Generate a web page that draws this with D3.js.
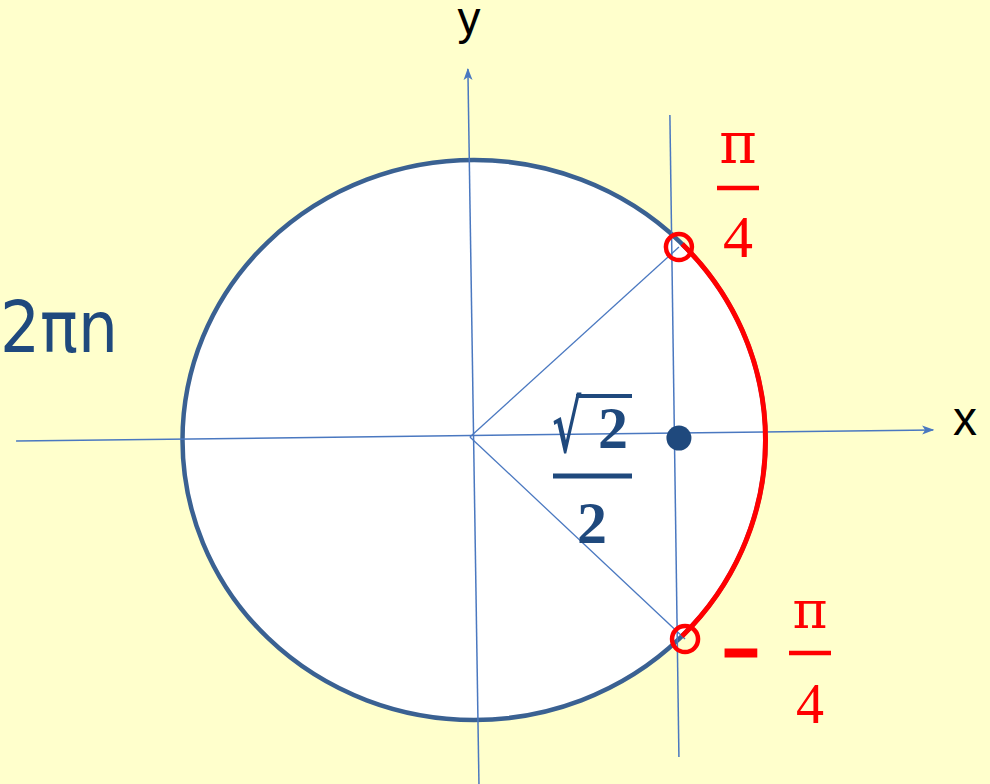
<!DOCTYPE html>
<html>
<head>
<meta charset="utf-8">
<script src="https://cdn.jsdelivr.net/npm/d3@7"></script>
<style>
	html, body { margin: 0; padding: 0; background: #FFFFCC; overflow: hidden; }
	svg { display: block; }
</style>
</head>
<body>
<svg id="chart" width="990" height="784"></svg>
<script>
// unit-circle coordinates
const AXIS_X = [[-1.571, -0.004], [1.575, 0.036]];
const AXIS_Y = [[0.017, -1.229], [-0.021, 1.325]];
const COS_LINE = [[0.672, 1.161], [0.703, -1.132]];
const ORIGIN = [-0.014, 0.011];
const ANGLE_POINTS = [[0.703, 0.689], [0.724, -0.711]];
const COS_POINT = [0.703, 0.007];

const AXIS_NAMES = ["x", "y"];
const ANGLE_LABELS = [["", "π", "4"], ["–", "π", "4"]];
const COS_LABEL = ["√", "2", "2"];
const SIDE_TEXT = "2πn";

const AXIS_COLOR = "#4A78C0";
const CIRCLE_COLOR = "#3A6192";
const DARK_BLUE = "#1F497D";
const RED = "#FF0000";

const svg = d3.select("#chart");
const width = +svg.attr("width");
const height = +svg.attr("height");

const x = d3.scaleLinear().domain([-1, 1]).range([182.5, 765.5]);
const y = d3.scaleLinear().domain([-1, 1]).range([720, 160]);
const rx = (x(1) - x(-1)) / 2;
const ry = (y(-1) - y(1)) / 2;

svg.append("rect")
	.attr("width", width)
	.attr("height", height)
	.attr("fill", "#FFFFCC");

svg.append("defs").append("marker")
	.attr("id", "arrow")
	.attr("viewBox", "0 0 12 10")
	.attr("refX", 11)
	.attr("refY", 5)
	.attr("markerWidth", 12)
	.attr("markerHeight", 10)
	.attr("markerUnits", "userSpaceOnUse")
	.attr("orient", "auto")
	.append("path")
	.attr("d", "M0,0.5 L12,5 L0,9.5 L3,5 Z")
	.attr("fill", AXIS_COLOR);

// circle
svg.append("ellipse")
	.attr("cx", x(0))
	.attr("cy", y(0))
	.attr("rx", rx)
	.attr("ry", ry)
	.attr("fill", "#fff")
	.attr("stroke", CIRCLE_COLOR)
	.attr("stroke-width", 4.5);

const line = d3.line()
	.x(d => x(d[0]))
	.y(d => y(d[1]));

// axes
svg.selectAll(".axis")
	.data([AXIS_X, AXIS_Y])
	.join("path")
	.attr("class", "axis")
	.attr("d", line)
	.attr("fill", "none")
	.attr("stroke", AXIS_COLOR)
	.attr("stroke-width", 1.5)
	.attr("marker-end", "url(#arrow)");

// vertical line x = cos
svg.append("path")
	.attr("d", line(COS_LINE))
	.attr("fill", "none")
	.attr("stroke", AXIS_COLOR)
	.attr("stroke-width", 1.5);

// radii
svg.selectAll(".radius")
	.data(ANGLE_POINTS)
	.join("path")
	.attr("class", "radius")
	.attr("d", d => line([ORIGIN, d]))
	.attr("fill", "none")
	.attr("stroke", AXIS_COLOR)
	.attr("stroke-width", 1.3);

// red arc between the angles, snapped onto the circle
const onCircle = p => {
	const t = Math.atan2(p[1], p[0]);
	return [Math.cos(t), Math.sin(t)];
};
const [a1, a2] = ANGLE_POINTS.map(onCircle);
svg.append("path")
	.attr("d", `M${x(a1[0])},${y(a1[1])} A${rx},${ry} 0 0 1 ${x(a2[0])},${y(a2[1])}`)
	.attr("fill", "none")
	.attr("stroke", RED)
	.attr("stroke-width", 5);

svg.selectAll(".ring")
	.data(ANGLE_POINTS)
	.join("circle")
	.attr("class", "ring")
	.attr("cx", d => x(d[0]))
	.attr("cy", d => y(d[1]))
	.attr("r", 13)
	.attr("fill", "none")
	.attr("stroke", RED)
	.attr("stroke-width", 4.5);

svg.append("circle")
	.attr("cx", x(COS_POINT[0]))
	.attr("cy", y(COS_POINT[1]))
	.attr("r", 12.5)
	.attr("fill", DARK_BLUE);

// axis names
svg.append("text")
	.attr("x", 965).attr("y", 435)
	.attr("text-anchor", "middle")
	.attr("font-family", "Liberation Sans, Arial, sans-serif")
	.attr("font-size", 48)
	.attr("fill", "#000")
	.text(AXIS_NAMES[0]);

svg.append("text")
	.attr("x", 469).attr("y", 34)
	.attr("text-anchor", "middle")
	.attr("font-family", "Liberation Sans, Arial, sans-serif")
	.attr("font-size", 46)
	.attr("fill", "#000")
	.text(AXIS_NAMES[1]);

svg.append("text")
	.attr("x", 0).attr("y", 352)
	.attr("font-family", "DejaVu Sans, sans-serif")
	.attr("font-size", 72)
	.attr("fill", DARK_BLUE)
	.attr("textLength", 118)
	.attr("lengthAdjust", "spacingAndGlyphs")
	.text(SIDE_TEXT);

// fractions
function fraction(g, cx, top, bottom, barY, barW, num, den, color, size) {
	g.append("text")
		.attr("x", cx).attr("y", top)
		.attr("text-anchor", "middle")
		.attr("font-family", "DejaVu Serif, serif")
		.attr("font-size", size * 0.95)
		.attr("fill", color)
		.text(num);
	g.append("line")
		.attr("x1", cx - barW / 2).attr("x2", cx + barW / 2)
		.attr("y1", barY).attr("y2", barY)
		.attr("stroke", color)
		.attr("stroke-width", 4.5);
	g.append("text")
		.attr("x", cx).attr("y", bottom)
		.attr("text-anchor", "middle")
		.attr("font-family", "Liberation Serif, serif")
		.attr("font-size", size)
		.attr("fill", color)
		.text(den);
}

const upper = svg.append("g");
fraction(upper, 738, 163, 257, 188, 42, ANGLE_LABELS[0][1], ANGLE_LABELS[0][2], RED, 60);

const lower = svg.append("g");
fraction(lower, 810, 628, 723, 653, 42, ANGLE_LABELS[1][1], ANGLE_LABELS[1][2], RED, 56);
lower.append("text")
	.attr("x", 741).attr("y", 669)
	.attr("text-anchor", "middle")
	.attr("font-family", "Liberation Sans, Arial, sans-serif")
	.attr("font-weight", "bold")
	.attr("font-size", 60)
	.attr("fill", RED)
	.attr("stroke", RED)
	.attr("stroke-width", 3)
	.text(ANGLE_LABELS[1][0]);

// sqrt(2)/2
const cosG = svg.append("g");
cosG.append("text")
	.attr("transform", "translate(552,452) scale(0.62,1)")
	.attr("font-family", "DejaVu Serif, serif")
	.attr("font-weight", "bold")
	.attr("font-size", 72)
	.attr("fill", DARK_BLUE)
	.text(COS_LABEL[0]);
cosG.append("line")
	.attr("x1", 576).attr("x2", 632)
	.attr("y1", 396).attr("y2", 396)
	.attr("stroke", DARK_BLUE)
	.attr("stroke-width", 4);
cosG.append("text")
	.attr("x", 613).attr("y", 448)
	.attr("text-anchor", "middle")
	.attr("font-family", "Liberation Serif, serif")
	.attr("font-weight", "bold")
	.attr("font-size", 60)
	.attr("fill", DARK_BLUE)
	.text(COS_LABEL[1]);
cosG.append("line")
	.attr("x1", 553).attr("x2", 632)
	.attr("y1", 476).attr("y2", 476)
	.attr("stroke", DARK_BLUE)
	.attr("stroke-width", 5);
cosG.append("text")
	.attr("x", 592).attr("y", 543)
	.attr("text-anchor", "middle")
	.attr("font-family", "Liberation Serif, serif")
	.attr("font-weight", "bold")
	.attr("font-size", 60)
	.attr("fill", DARK_BLUE)
	.text(COS_LABEL[2]);
</script>
</body>
</html>
